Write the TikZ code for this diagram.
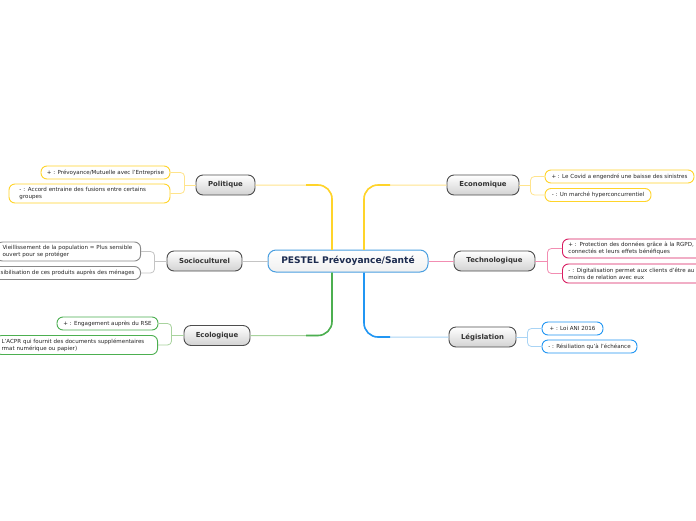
\documentclass[tikz,border=0pt]{standalone}
\usepackage{fontspec}
\setmainfont{DejaVu Sans}
\usetikzlibrary{calc}
\definecolor{yel}{HTML}{FFD42A}
\definecolor{yell}{HTML}{FFE48C}
\definecolor{grn}{HTML}{4CAF50}
\definecolor{grnl}{HTML}{A8D39E}
\definecolor{crim}{HTML}{D81B60}
\definecolor{criml}{HTML}{F28DB2}
\definecolor{bl}{HTML}{2196F3}
\definecolor{bll}{HTML}{A9D4F5}
\definecolor{sgray}{HTML}{888888}
\definecolor{sgrayl}{HTML}{C4C4C4}
\definecolor{navy}{HTML}{1C2B4F}
\definecolor{dgray}{HTML}{4D4D4D}
\definecolor{cblue}{HTML}{4A9FE0}
\begin{document}
\begin{tikzpicture}[x=1pt,y=-1pt,
  centre/.style={draw=cblue, line width=1pt, rounded corners=8pt, top color=white, bottom color=gray!12,
    minimum width=160pt, minimum height=22pt, inner sep=0pt, text=navy,
    font=\bfseries\fontsize{9.1}{10}\selectfont},
  mainbox/.style={draw=dgray, line width=0.9pt, rounded corners=7pt, top color=white, bottom color=gray!35,
    minimum height=20pt, inner sep=0pt, text=black!80, font=\bfseries\fontsize{6.9}{8}\selectfont},
  leaf/.style={line width=0.9pt, fill=white, rounded corners=6pt, minimum height=13pt, inner ysep=0pt,
    inner xsep=6pt, text=black!85, font=\fontsize{5.55}{7}\selectfont},
  leaf2/.style={leaf, minimum height=19pt, align=left},
  link/.style={line width=0.8pt, rounded corners=4pt}
]
\useasboundingbox (0,0) rectangle (696,520);
\clip (0,0) rectangle (696,520);
\fill[white] (0,0) rectangle (696,520);

% central
\node[centre] (c) at (348,261) {PESTEL Prévoyance/Santé};

% main nodes
\node[mainbox, minimum width=59pt] (pol) at (225.5,185) {Politique};
\node[mainbox, minimum width=75pt] (soc) at (204.5,261) {Socioculturel};
\node[mainbox, minimum width=66pt] (eco) at (217,335.5) {Ecologique};
\node[mainbox, minimum width=72pt] (econ) at (483,185) {Economique};
\node[mainbox, minimum width=81pt] (tech) at (494.5,261) {Technologique};
\node[mainbox, minimum width=67pt] (leg) at (482.5,337) {Législation};

% leaves
\node[leaf, draw=yel, minimum width=129pt] (pol1) at (105.5,172.5) {+ : Prévoyance/Mutuelle avec l'Entreprise};
\node[leaf2, draw=yel, text width=140pt, inner xsep=10.5pt] (pol2) at (89.5,193.5) {- : Accord entraine des fusions entre certains\\groupes};

\node[leaf2, draw=sgray, text width=132pt, inner xsep=6pt, anchor=east] (soc1) at (141,251.5) {Vieillissement de la population = Plus sensible\\ouvert pour se protéger};
\node[leaf, draw=sgray, text width=135pt, align=right, anchor=east] (soc2) at (141,273) {sibilisation de ces produits auprès des ménages};

\node[leaf, draw=grn, minimum width=101pt] (eco1) at (107.5,323.5) {+ : Engagement auprès du RSE};
\node[leaf2, draw=grn, text width=150pt, inner xsep=6pt, anchor=east] (eco2) at (158,345) {L'ACPR qui fournit des documents supplémentaires\\rmat numérique ou papier)};

\node[leaf, draw=yel, minimum width=149pt] (econ1) at (619.5,176.5) {+ : Le Covid a engendré une baisse des sinistres};
\node[leaf, draw=yel, minimum width=106pt] (econ2) at (598,195) {- : Un marché hyperconcurrentiel};

\node[leaf2, draw=crim, text width=150pt, anchor=west] (tech1) at (562,248.5) {+ : Protection des données grâce à la RGPD,\\connectés et leurs effets bénéfiques};
\node[leaf2, draw=crim, text width=150pt, anchor=west] (tech2) at (562,273.5) {- : Digitalisation permet aux clients d'être au\\moins de relation avec eux};

\node[leaf, draw=bl, minimum width=61pt] (leg1) at (572.5,328.5) {+ : Loi ANI 2016};
\node[leaf, draw=bl, minimum width=95pt] (leg2) at (589.5,346.5) {- : Résiliation qu'à l'échéance};

% main branches
\coordinate (cpl) at ($(c.north)+(-16,0)$);
\coordinate (cpr) at ($(c.north)+(16,0)$);
\coordinate (cml) at ($(c.south)+(-16,0)$);
\coordinate (cmr) at ($(c.south)+(16,0)$);
\draw[yell, line width=1pt, rounded corners=14pt] (cpl) |- (pol.east);
\draw[yel, line width=1.6pt, rounded corners=14pt] (cpl) |- ($(cpl|-pol.east)+(-26,0)$);
\draw[yel, line width=2.6pt] (cpl) -- ($(cpl|-pol.east)+(0,16)$);
\draw[yell, line width=1pt, rounded corners=14pt] (cpr) |- (econ.west);
\draw[yel, line width=1.6pt, rounded corners=14pt] (cpr) |- ($(cpr|-econ.west)+(26,0)$);
\draw[yel, line width=2.6pt] (cpr) -- ($(cpr|-econ.west)+(0,16)$);
\draw[grnl, line width=1pt, rounded corners=14pt] (cml) |- (eco.east);
\draw[grn, line width=1.6pt, rounded corners=14pt] (cml) |- ($(cml|-eco.east)+(-26,0)$);
\draw[grn, line width=2.6pt] (cml) -- ($(cml|-eco.east)+(0,-16)$);
\draw[bll, line width=1pt, rounded corners=14pt] (cmr) |- (leg.west);
\draw[bl, line width=1.6pt, rounded corners=14pt] (cmr) |- ($(cmr|-leg.west)+(26,0)$);
\draw[bl, line width=2.6pt] (cmr) -- ($(cmr|-leg.west)+(0,-16)$);
\draw[sgrayl, line width=0.9pt] (c.west) -- (soc.east);
\draw[criml, line width=0.9pt] (c.east) -- (tech.west);

% leaf brackets
\coordinate (pb) at ($(pol.west)+(-11,0)$);
\draw[link, yell] (pol.west) -- (pb);
\draw[link, yell] (pol1.east) -| (pb) |- (pol2.east);

\coordinate (sb) at ($(soc.west)+(-12,0)$);
\draw[link, sgrayl] (soc.west) -- (sb);
\draw[link, sgrayl] (soc1.east) -| (sb) |- (soc2.east);

\coordinate (eb) at ($(eco.west)+(-12,0)$);
\draw[link, grnl] (eco.west) -- (eb);
\draw[link, grnl] (eco1.east) -| (eb) |- (eco2.east);

\coordinate (ecb) at ($(econ.east)+(11,0)$);
\draw[link, yell] (econ.east) -- (ecb);
\draw[link, yell] (econ1.west) -| (ecb) |- (econ2.west);

\coordinate (tb) at ($(tech.east)+(12,0)$);
\draw[link, criml] (tech.east) -- (tb);
\draw[link, criml] (tech1.west) -| (tb) |- (tech2.west);

\coordinate (lb) at ($(leg.east)+(11,0)$);
\draw[link, bll] (leg.east) -- (lb);
\draw[link, bll] (leg1.west) -| (lb) |- (leg2.west);
\end{tikzpicture}
\end{document}
